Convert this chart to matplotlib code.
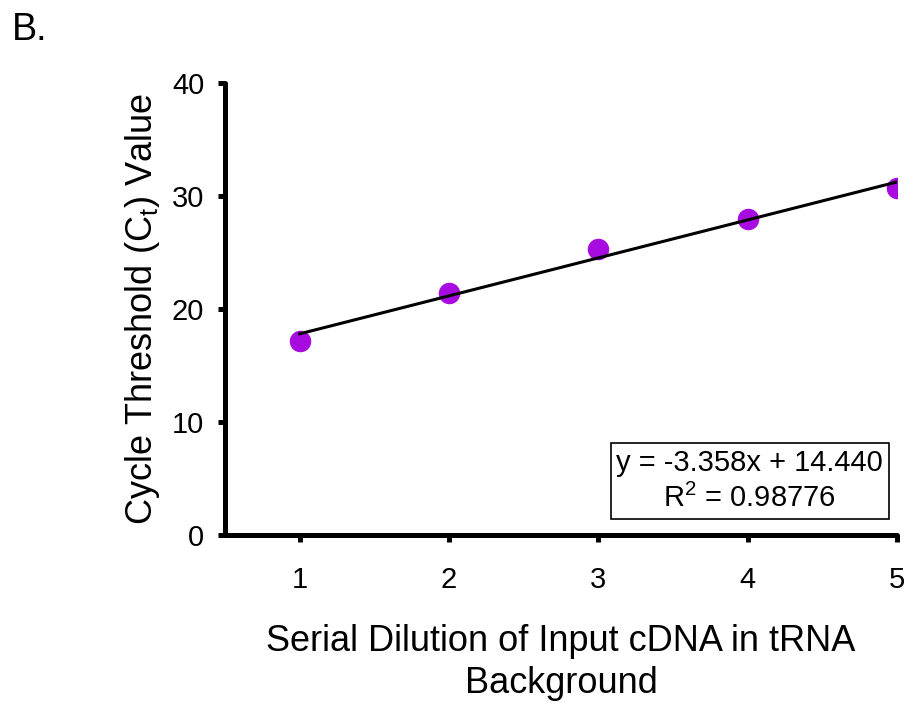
import numpy as np
import matplotlib
matplotlib.use("Agg")
import matplotlib.pyplot as plt

plt.rcParams['font.family'] = ['Liberation Sans', 'DejaVu Sans']
plt.rcParams['mathtext.default'] = 'regular'

# serial dilution steps and measured Ct values
dilution = np.array([1, 2, 3, 4, 5])
ct_values = np.array([17.2, 21.4, 25.3, 28.0, 30.7])
eq_text = "y = -3.358x + 14.440\nR$^2$ = 0.98776"

fig = plt.figure(figsize=(9.08, 7.03), dpi=100)
ax = fig.add_axes([0.2478, 0.239, 0.7401, 0.643])

ax.scatter(dilution, ct_values, s=240, color='#A80BE0', zorder=2, linewidths=0)

# linear trendline
slope, intercept = np.polyfit(dilution, ct_values, 1)
xl = np.array([dilution[0], dilution[-1]])
ax.plot(xl, slope * xl + intercept, color='black', lw=2.2, zorder=3)

ax.set_xlim(0.5, 5)
ax.set_ylim(0, 40)
ax.set_xticks(dilution)
ax.set_yticks([0, 10, 20, 30, 40])
for s in ['top', 'right']:
    ax.spines[s].set_visible(False)
for s in ['left', 'bottom']:
    ax.spines[s].set_linewidth(3.6)
    ax.spines[s].set_capstyle('round')
ax.tick_params(direction='out', length=5, width=3.6, labelsize=21)
ax.tick_params(axis='y', pad=10)
ax.tick_params(axis='x', pad=17)

ax.set_xlabel("Serial Dilution of Input cDNA in tRNA\nBackground", fontsize=26,
              labelpad=22, linespacing=1.25)
ax.set_ylabel("Cycle Threshold (C$_t$) Value", fontsize=26, labelpad=7)

ax.text(0.781, 0.12, eq_text, transform=ax.transAxes, ha='center', va='center',
        fontsize=21, linespacing=1.3,
        bbox=dict(boxstyle='square,pad=0.2', fc='white', ec='black', lw=1.2))

fig.text(0.013, 0.943, "B.", fontsize=27, ha='left', va='baseline')

fig.savefig("out.png", dpi=100)
